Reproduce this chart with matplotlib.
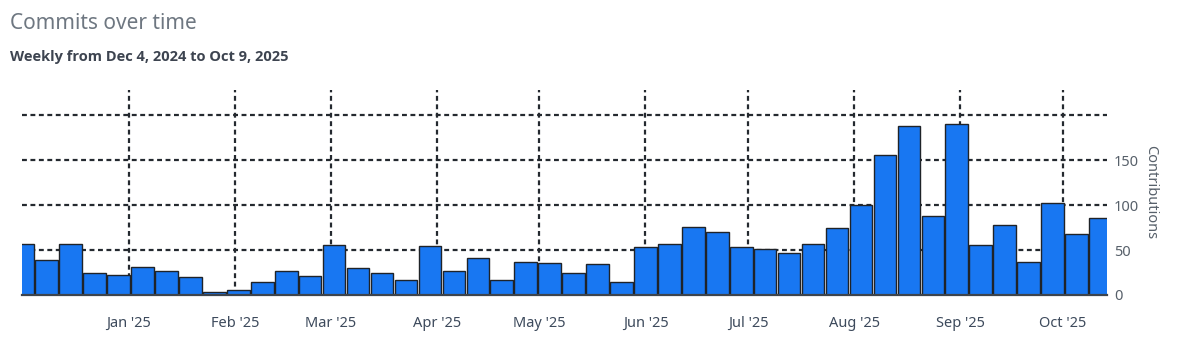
import matplotlib
matplotlib.use("Agg")
import matplotlib.pyplot as plt
import pandas as pd

plt.rcParams['font.family'] = ['Noto Sans', 'DejaVu Sans']

# weekly commit counts, one bar per week (centred on the Sunday)
commits = [57, 39, 57, 25, 22, 31, 27, 20, 3, 5, 15, 27, 21, 56, 30, 25,
           17, 54, 27, 41, 17, 37, 36, 25, 35, 15, 53, 57, 76, 70, 53, 51,
           47, 57, 74, 100, 156, 188, 88, 190, 56, 78, 37, 102, 68, 86]
weeks = pd.date_range("2024-12-01", periods=len(commits), freq="7D")

month_ticks = pd.date_range("2025-01-01", "2025-10-01", freq="MS")
month_labels = [d.strftime("%b '%y") for d in month_ticks]

y_ticks = [0, 50, 100, 150, 200]
y_labels = ["0", "50", "100", "150", ""]

fig = plt.figure(figsize=(12, 3.54), dpi=100)
ax = fig.add_axes([0.0183, 0.1667, 0.9042, 0.5791])

ax.bar(weeks, commits, width=6.6, color="#1877F2", edgecolor="#1f2328",
       linewidth=1.0, zorder=3)

ax.set_xlim(pd.Timestamp("2024-11-30 18:00"), pd.Timestamp("2025-10-13 22:00"))
ax.set_ylim(0, 228)

ax.set_xticks(month_ticks)
ax.set_xticklabels(month_labels)
ax.set_yticks(y_ticks)
ax.set_yticklabels(y_labels)

ax.yaxis.tick_right()
ax.yaxis.set_label_position("right")
ax.tick_params(axis="both", length=0, labelsize=10.5, colors="#57606a")
ax.tick_params(axis="x", pad=15, labelcolor="#3d4a5c")
ax.tick_params(axis="y", pad=5)

ax.grid(True, color="#24292f", linestyle=(0, (2.2, 1.6)), linewidth=1.6, zorder=0)
ax.set_axisbelow(True)

for side in ["top", "left", "right"]:
    ax.spines[side].set_visible(False)
ax.spines["bottom"].set_color("#3d444d")
ax.spines["bottom"].set_linewidth(1.6)
ax.spines["bottom"].set_zorder(4)

ax.set_ylabel("Contributions", rotation=270, color="#57606a", fontsize=10.5,
              labelpad=14)

fig.text(0.008, 0.935, "Commits over time", fontsize=15, color="#6e7781",
         va="center", ha="left")
fig.text(0.008, 0.838, "Weekly from Dec 4, 2024 to Oct 9, 2025", fontsize=10.5,
         family=["Open Sans", "DejaVu Sans"], color="#3d4450",
         fontweight="bold", va="center", ha="left")

fig.savefig("out.png", dpi=100)
